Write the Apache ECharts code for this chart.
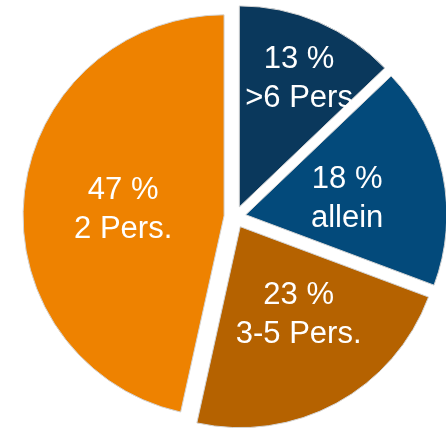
<!DOCTYPE html>
<html>
<head>
<meta charset="utf-8">
<script src="https://cdn.jsdelivr.net/npm/echarts@6/dist/echarts.min.js"></script>
<style>
html,body{margin:0;padding:0;background:#fff;}
#chart{width:446px;height:432px;}
</style>
</head>
<body>
<div id="chart"></div>
<script>
const categories = ['>6 Pers', 'allein', '3-5 Pers.', '2 Pers.'];
const percentValues = [13, 18, 23, 47];
const sliceColors = ['#0A385C', '#034A7B', '#B56200', '#EE8200'];
const labelShift = [[19, -33], [0, 5], [9, -3], [2, 5]];

const chart = echarts.init(document.getElementById('chart'), null, {renderer: 'canvas'});
const data = categories.map((name, i) => ({
  name: name,
  value: percentValues[i],
  selected: true,
  itemStyle: {color: sliceColors[i]}
}));

chart.setOption({
  animation: false,
  series: [{
    type: 'pie',
    center: [235, 217],
    radius: 201,
    startAngle: 90,
    clockwise: true,
    selectedMode: 'multiple',
    selectedOffset: 11,
    avoidLabelOverlap: false,
    itemStyle: {borderColor: '#d4d4d4', borderWidth: 1},
    label: {
      show: true,
      position: 'inside',
      color: '#ffffff',
      fontFamily: "'Liberation Sans', Arial, sans-serif",
      fontSize: 31,
      lineHeight: 39,
      formatter: p => p.value + ' %\n' + p.name
    },
    labelLayout: p => ({dx: labelShift[p.dataIndex][0], dy: labelShift[p.dataIndex][1]}),
    labelLine: {show: false},
    emphasis: {disabled: true},
    data: data
  }]
});
</script>
</body>
</html>
